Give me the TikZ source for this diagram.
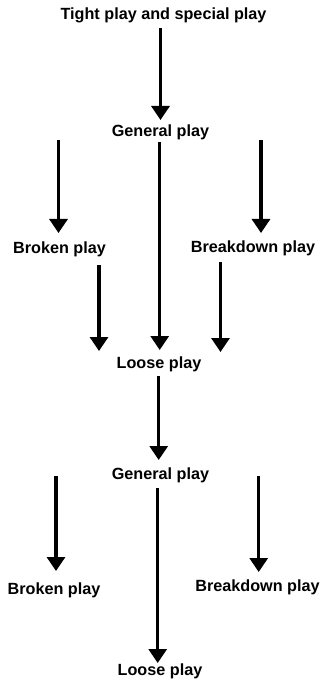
\documentclass[tikz,border=0pt]{standalone}
\usepackage{fontspec}
\setmainfont{Liberation Sans}
\usetikzlibrary{arrows.meta}
\begin{document}
\begin{tikzpicture}[x=1pt,y=-1pt,
  lbl/.style={font=\fontsize{16.2}{19}\selectfont\bfseries, inner sep=0pt, anchor=base},
  arr/.style={line width=3.2pt, -{Triangle[width=18pt,length=14pt]}}]
\useasboundingbox (0,0) rectangle (321,684);

% phase labels (placed on their baselines)
\node[lbl] (tight)     at (163.5,20)  {Tight play and special play};
\node[lbl] (general1)  at (160.5,137) {General play};
\node[lbl] (broken1)   at (59.5,254)  {Broken play};
\node[lbl] (breakdn1)  at (253,253)   {Breakdown play};
\node[lbl] (loose1)    at (159,368)   {Loose play};
\node[lbl] (general2)  at (160.5,479) {General play};
\node[lbl] (broken2)   at (54,594)    {Broken play};
\node[lbl] (breakdn2)  at (257.5,591) {Breakdown play};
\node[lbl] (loose2)    at (160,675)   {Loose play};

% arrow end points
\coordinate (a1s) at (160.5,28);  \coordinate (a1e) at (160.5,120);
\coordinate (a2s) at (58.5,140);  \coordinate (a2e) at (58.5,233);
\coordinate (a3s) at (159.7,142); \coordinate (a3e) at (159.7,350);
\coordinate (a4s) at (261,140);   \coordinate (a4e) at (261,233);
\coordinate (a5s) at (99,265);    \coordinate (a5e) at (99,351);
\coordinate (a6s) at (220.5,262); \coordinate (a6e) at (220.5,352);
\coordinate (a7s) at (158.7,376); \coordinate (a7e) at (158.7,460);
\coordinate (a8s) at (56,476);    \coordinate (a8e) at (56,571);
\coordinate (a9s) at (157.7,488); \coordinate (a9e) at (157.7,663);
\coordinate (a10s) at (258.7,476);\coordinate (a10e) at (258.7,572);

\draw[arr] (a1s) -- (a1e);
\draw[arr] (a2s) -- (a2e);
\draw[arr] (a3s) -- (a3e);
\draw[arr] (a4s) -- (a4e);
\draw[arr] (a5s) -- (a5e);
\draw[arr] (a6s) -- (a6e);
\draw[arr] (a7s) -- (a7e);
\draw[arr] (a8s) -- (a8e);
\draw[arr] (a9s) -- (a9e);
\draw[arr] (a10s) -- (a10e);
\end{tikzpicture}
\end{document}
